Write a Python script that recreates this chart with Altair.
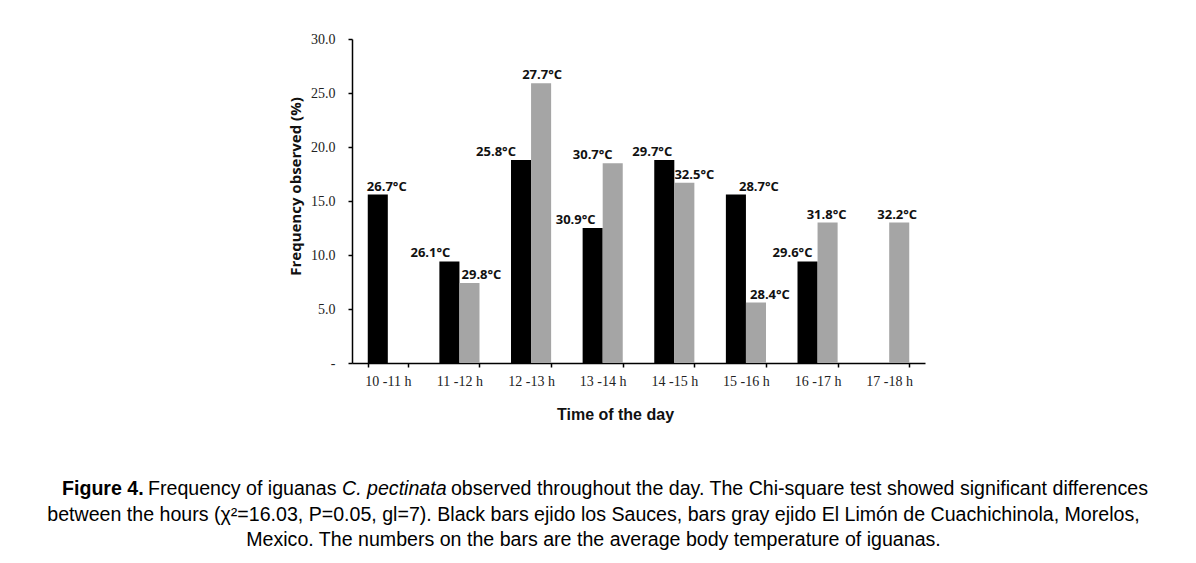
import altair as alt
import pandas as pd

# ---- data ----
hours = ["10 -11 h", "11 -12 h", "12 -13 h", "13 -14 h", "14 -15 h", "15 -16 h", "16 -17 h", "17 -18 h"]
series = ["Sauces", "Limon"]
freq_sauces = [15.6, 9.4, 18.8, 12.5, 18.8, 15.6, 9.4, None]
freq_limon = [None, 7.4, 25.9, 18.5, 16.7, 5.6, 13.0, 13.0]
temp_sauces = ["26.7°C", "26.1°C", "25.8°C", "30.9°C", "29.7°C", "28.7°C", "29.6°C", None]
temp_limon = [None, "29.8°C", "27.7°C", "30.7°C", "32.5°C", "28.4°C", "31.8°C", "32.2°C"]
# horizontal nudges of the temperature annotations (px), as placed in the figure
nudge_sauces = [9, -19, -25, -17, -12, 23, -15, 0]
nudge_limon = [0, 12, 1, -20, 10, 14, -1, -2]

rows = []
for i, h in enumerate(hours):
    rows.append({"hour": h, "series": "Sauces", "freq": freq_sauces[i], "temp": temp_sauces[i], "nudge": nudge_sauces[i]})
    rows.append({"hour": h, "series": "Limon", "freq": freq_limon[i], "temp": temp_limon[i], "nudge": nudge_limon[i]})
df = pd.DataFrame(rows)
df = df[df["freq"].notna()]

W, H = 573, 324
serif = "Liberation Serif"
sans = "Liberation Sans"
lblfont = "Open Sans"

x_enc = alt.X(
    "hour:N",
    sort=hours,
    scale=alt.Scale(domain=hours, paddingInner=0.44, paddingOuter=0.22),
    axis=alt.Axis(
        title="Time of the day",
        titleFont=sans, titleFontSize=16, titleFontWeight="bold", titleColor="#111",
        titleX=263, titleY=51, titleBaseline="middle", titleAnchor="start", titleAlign="center",
        labelFont=serif, labelFontSize=14, labelColor="#222", labelAngle=0, labelPadding=7,
        tickBand="extent", tickSize=4, tickColor="black", tickWidth=1.5,
        domainColor="black", domainWidth=1.5, grid=False,
    ),
)
xoff = alt.XOffset("series:N", sort=series, scale=alt.Scale(domain=series, paddingInner=0, paddingOuter=0))
y_enc = alt.Y(
    "freq:Q",
    scale=alt.Scale(domain=[0, 30], nice=False),
    axis=alt.Axis(
        title="Frequency observed (%)",
        titleFont=lblfont, titleFontSize=15, titleFontWeight="bold", titleColor="#111",
        titleX=-49, titleY=147, titleAnchor="start", titleAlign="center",
        values=[0, 5, 10, 15, 20, 25, 30],
        labelExpr="datum.value == 0 ? '-' : format(datum.value, '.1f')",
        labelFont=serif, labelFontSize=14, labelColor="#222", labelPadding=13,
        tickSize=4, tickColor="black", tickWidth=1.5,
        domainColor="black", domainWidth=1.5, grid=False,
    ),
)

base = alt.Chart(df)
bars = base.mark_bar().encode(
    x=x_enc,
    xOffset=xoff,
    y=y_enc,
    color=alt.Color("series:N", scale=alt.Scale(domain=series, range=["#000000", "#a5a5a5"]), legend=None),
)
labels = base.mark_text(
    font=lblfont, fontSize=13, fontWeight="bold", color="#111", baseline="alphabetic", dy=-4,
    dx=alt.ExprRef("datum.nudge"),
).encode(
    x=alt.X("hour:N", sort=hours),
    xOffset=alt.XOffset("series:N", sort=series),
    y="freq:Q",
    text="temp:N",
)

# ---- caption ----
cap = pd.DataFrame({"t": [0]})
CAP_SIZE = 19.6
def cap_text(txt, x, y, align="left", weight="normal", style="normal"):
    return alt.Chart(cap).mark_text(
        text=txt, font=sans, fontSize=CAP_SIZE, color="#000", align=align, baseline="alphabetic",
        fontWeight=weight, fontStyle=style,
    ).encode(x=alt.value(x), y=alt.value(y))

caption = [
    cap_text("Figure 4.", -290, 456, weight="bold"),
    cap_text("Frequency of iguanas", -204, 456),
    cap_text("C. pectinata", -10, 456, style="italic"),
    cap_text("observed throughout the day. The Chi-square test showed significant differences", 796, 456, align="right"),
    cap_text("between the hours (χ²=16.03, P=0.05, gl=7). Black bars ejido los Sauces, bars gray ejido El Limón de Cuachichinola, Morelos,", 241.5, 482, align="center"),
    cap_text("Mexico. The numbers on the bars are the average body temperature of iguanas.", 241.5, 507, align="center"),
]

chart = alt.layer(bars, labels, *caption).resolve_scale(x="shared").properties(
    width=W, height=H,
    padding={"left": 344, "top": 31, "right": 263, "bottom": 192},
    autosize=alt.AutoSizeParams(type="none"),
    background="white",
).configure_view(stroke=None)

chart.save("out.html", embed_options={"renderer": "svg", "actions": False})
